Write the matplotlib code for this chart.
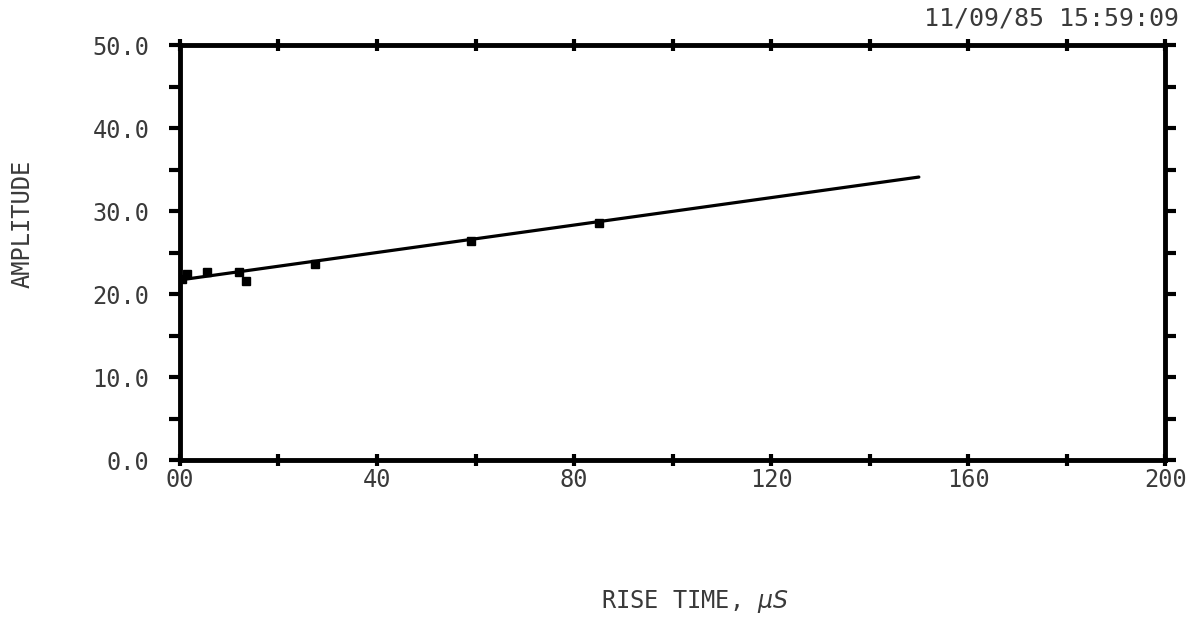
import numpy as np
import matplotlib
matplotlib.use('Agg')
import matplotlib.pyplot as plt

# measured points (rise time in microseconds, amplitude)
riseTime = [0.5, 1.5, 5.5, 12.0, 13.5, 27.5, 59.0, 85.0]
amplitude = [21.8, 22.4, 22.6, 22.6, 21.6, 23.6, 26.4, 28.6]

# fitted line end points
fitX = [0.0, 150.0]
fitY = [21.7, 34.1]

xTicks = [0, 20, 40, 60, 80, 100, 120, 140, 160, 180, 200]
xTickLabels = ["00", "", "40", "", "80", "", "120", "", "160", "", "200"]
yTicks = [0, 5, 10, 15, 20, 25, 30, 35, 40, 45, 50]
yTickLabels = ["0.0", "", "10.0", "", "20.0", "", "30.0", "", "40.0", "", "50.0"]

textFont = {'family': 'DejaVu Sans Mono', 'color': '#3a3a3a'}

fig = plt.figure(figsize=(11.87, 6.23), dpi=100)
ax = fig.add_axes([0.1516, 0.2616, 0.830, 0.666])

ax.plot(fitX, fitY, color='black', linewidth=2.3, solid_capstyle='round')
ax.plot(riseTime, amplitude, linestyle='none', marker='s', markersize=6,
        color='black')

ax.set_xlim(0, 200)
ax.set_ylim(0, 50)

for s in ax.spines.values():
    s.set_linewidth(3.5)
    s.set_color('black')

ax.set_xticks(xTicks)
ax.set_xticklabels(xTickLabels, fontdict=textFont, fontsize=17)
ax.set_yticks(yTicks)
ax.set_yticklabels(yTickLabels, fontdict=textFont, fontsize=17)
ax.tick_params(axis='x', direction='inout', length=8, width=3, pad=2,
               top=True, bottom=True)
ax.tick_params(axis='y', direction='out', length=8, width=3, pad=14,
               left=True, right=True)

fig.text(0.019, 0.64, "AMPLITUDE", rotation=90, ha='center', va='center',
         fontsize=17, **textFont)
fig.text(0.585, 0.035, r"RISE TIME, $\mu S$", ha='center', va='center',
         fontsize=17, **textFont)
fig.text(0.993, 0.97, "11/09/85 15:59:09", ha='right', va='center',
         fontsize=18, **textFont)

fig.savefig('out.png', dpi=100)
